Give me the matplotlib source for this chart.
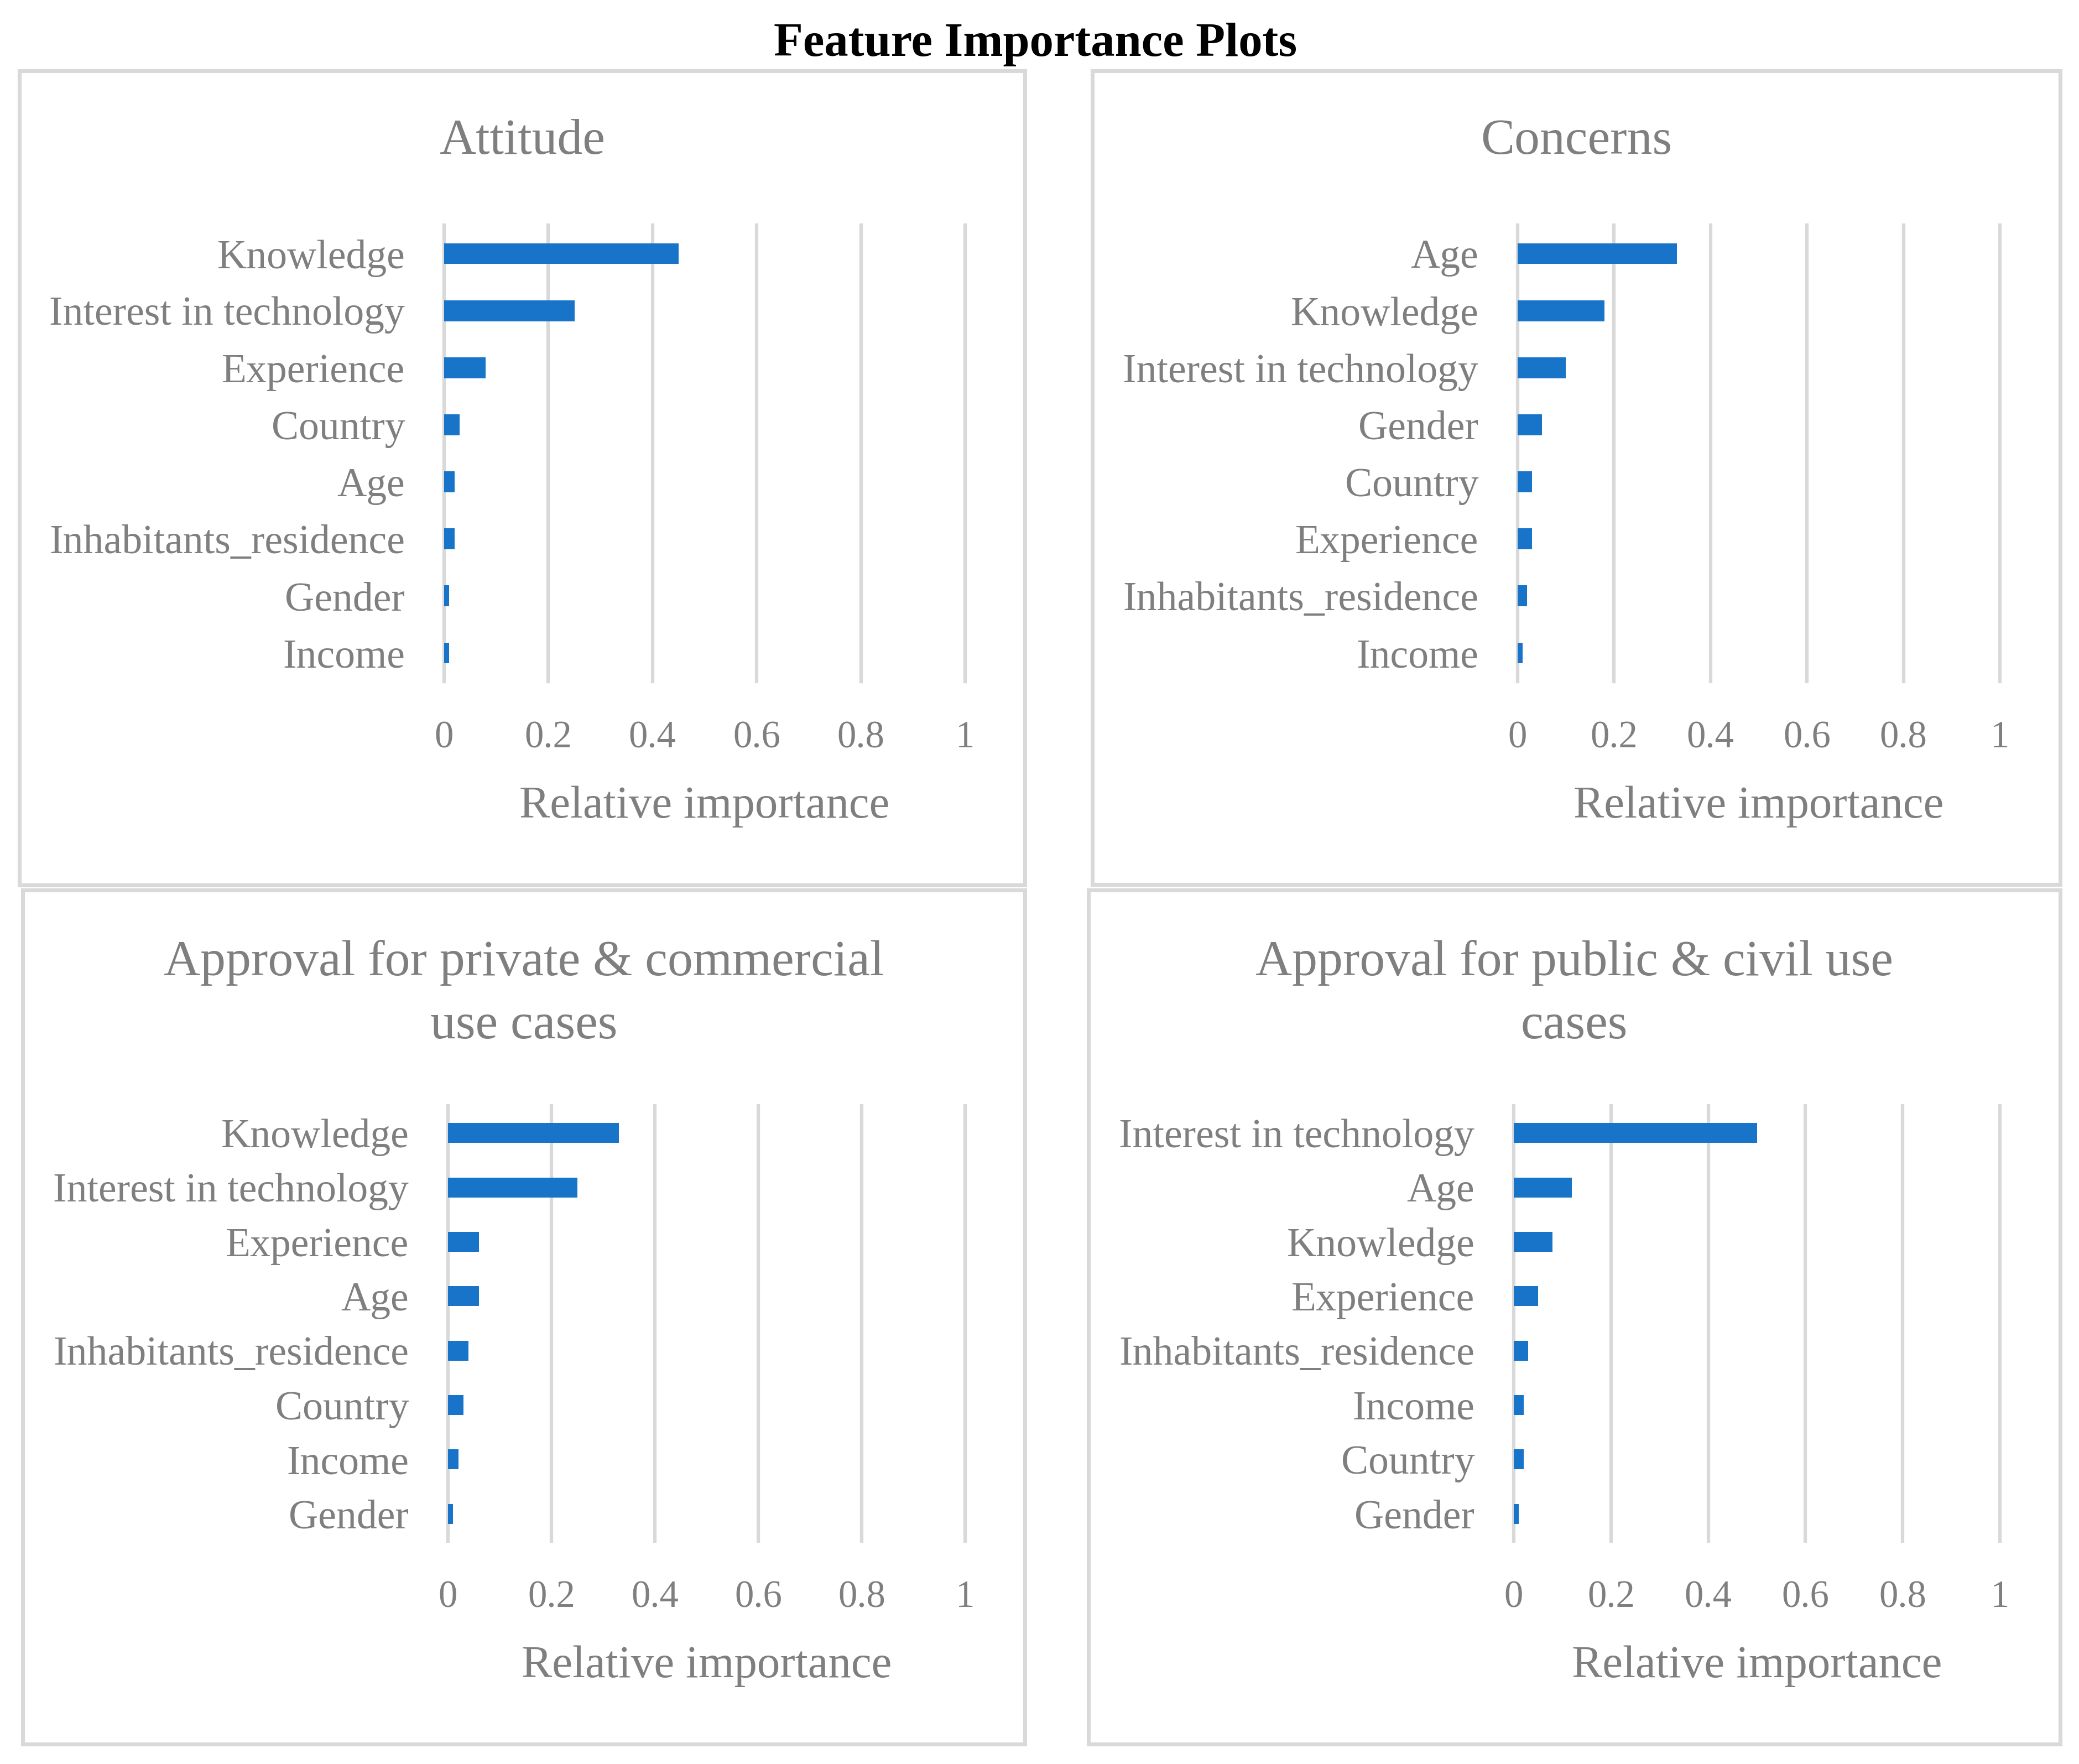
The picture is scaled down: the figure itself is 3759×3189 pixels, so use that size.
import matplotlib
matplotlib.use("Agg")
import matplotlib.pyplot as plt
from matplotlib.patches import Rectangle

# ---- data ----
attitude_features = ['Knowledge', 'Interest in technology', 'Experience', 'Country',
                     'Age', 'Inhabitants_residence', 'Gender', 'Income']
attitude_values = [0.45, 0.25, 0.08, 0.03, 0.02, 0.02, 0.01, 0.01]

concerns_features = ['Age', 'Knowledge', 'Interest in technology', 'Gender',
                     'Country', 'Experience', 'Inhabitants_residence', 'Income']
concerns_values = [0.33, 0.18, 0.10, 0.05, 0.03, 0.03, 0.02, 0.01]

private_features = ['Knowledge', 'Interest in technology', 'Experience', 'Age',
                    'Inhabitants_residence', 'Country', 'Income', 'Gender']
private_values = [0.33, 0.25, 0.06, 0.06, 0.04, 0.03, 0.02, 0.01]

public_features = ['Interest in technology', 'Age', 'Knowledge', 'Experience',
                   'Inhabitants_residence', 'Income', 'Country', 'Gender']
public_values = [0.50, 0.12, 0.08, 0.05, 0.03, 0.02, 0.02, 0.01]

titles = ['Attitude', 'Concerns',
          'Approval for private & commercial\nuse cases',
          'Approval for public & civil use\ncases']
x_ticks = [0, 0.2, 0.4, 0.6, 0.8, 1]
x_tick_labels = ['0', '0.2', '0.4', '0.6', '0.8', '1']
x_label = 'Relative importance'
main_title = 'Feature Importance Plots'

# ---- style ----
W, H = 3759, 3189
DPI = 300
plt.rcParams['font.family'] = ['Liberation Serif', 'DejaVu Serif']
TXT = '#7f7f7f'
GRID = '#d9d9d9'
BAR = '#1874c8'

fig = plt.figure(figsize=(W / DPI, H / DPI), dpi=DPI)

def fx(px):
    return px / W

def fy(py):
    return 1 - py / H

# panel borders (pixel boxes: x0, y0, x1, y1)
borders = [(35, 128, 1853, 1600), (1975, 128, 3725, 1599),
           (41, 1609, 1853, 3153), (1968, 1609, 3725, 3153)]
# axes boxes (pixel: x0, ytop, x1, ybottom)
axboxes = [(803, 407, 1745, 1232), (2744, 407, 3616, 1232),
           (810, 1999, 1745, 2786), (2737, 1999, 3616, 2786)]
title_y = [(256,), (256,), (1740, 1855), (1740, 1855)]

for b in borders:
    x0, y0, x1, y1 = b
    fig.patches.append(Rectangle((fx(x0), fy(y1)), fx(x1 - x0), (y1 - y0) / H,
                                 transform=fig.transFigure, fill=False,
                                 edgecolor=GRID, linewidth=1.7, zorder=0))

datasets = [(attitude_features, attitude_values), (concerns_features, concerns_values),
            (private_features, private_values), (public_features, public_values)]

for i, ((feats, vals), box, b) in enumerate(zip(datasets, axboxes, borders)):
    x0, yt, x1, yb = box
    ax = fig.add_axes([fx(x0), fy(yb), fx(x1 - x0), (yb - yt) / H])
    pos = list(range(len(feats)))
    ax.barh(pos, vals, height=0.365, color=BAR, zorder=3)
    ax.set_ylim(len(feats) - 0.5, -0.5)
    ax.set_xlim(0, 1)
    ax.set_xticks(x_ticks)
    ax.set_xticklabels(x_tick_labels)
    ax.set_yticks(pos)
    ax.set_yticklabels(feats)
    ax.tick_params(axis='x', length=0, labelsize=16.5, labelcolor=TXT, pad=17)
    ax.tick_params(axis='y', length=0, labelsize=17.7, labelcolor=TXT, pad=17)
    for s in ax.spines.values():
        s.set_visible(False)
    ax.xaxis.grid(True, color=GRID, linewidth=1.5, zorder=0)
    ax.set_axisbelow(True)
    for gl in ax.get_xgridlines():
        gl.set_clip_on(False)
    ax.set_xlabel(x_label, fontsize=19.9, color=TXT, labelpad=13)
    # panel title centred on panel border
    cx = (b[0] + b[2]) / 2
    lines = titles[i].split('\n')
    for ln, ty in zip(lines, title_y[i]):
        fig.text(fx(cx), fy(ty), ln, ha='center', va='center', fontsize=22, color=TXT)

fig.text(fx(1872), fy(81), main_title, ha='center', va='center',
         fontsize=20.8, fontweight='bold', color='black')

fig.savefig('out.png', dpi=DPI, facecolor='white')
